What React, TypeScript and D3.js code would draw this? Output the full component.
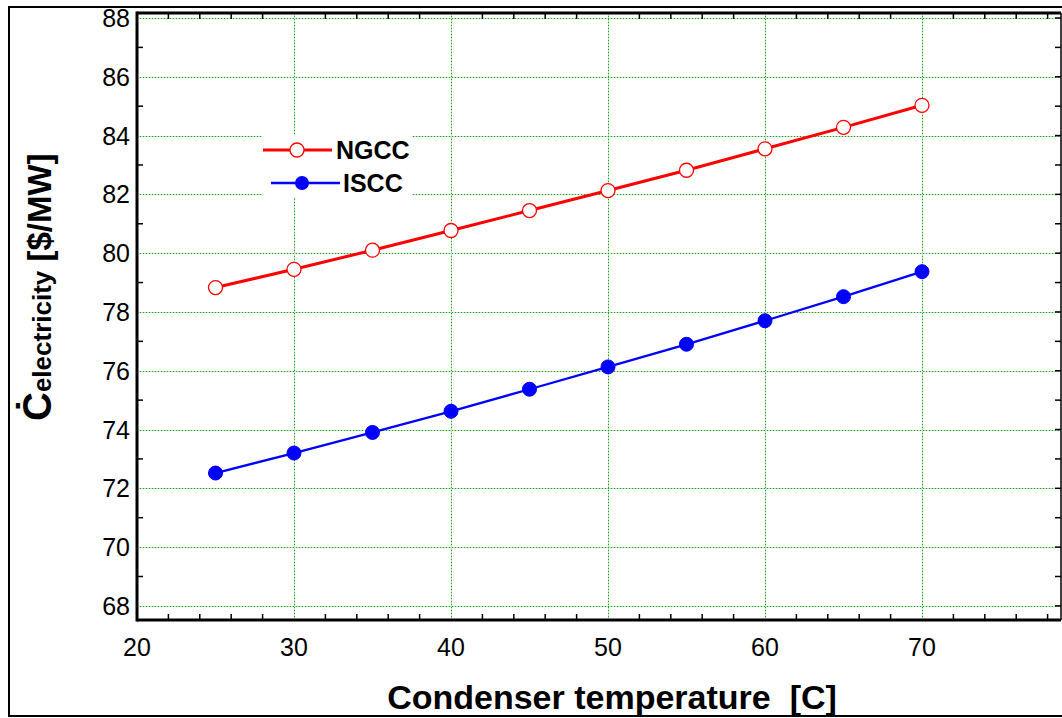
import React from 'react';
import * as d3 from 'd3';

const temps = [25, 30, 35, 40, 45, 50, 55, 60, 65, 70];
const ngcc = [78.83, 79.45, 80.1, 80.77, 81.45, 82.13, 82.82, 83.55, 84.28, 85.03];
const iscc = [72.52, 73.2, 73.9, 74.62, 75.37, 76.13, 76.9, 77.7, 78.52, 79.37];
const xTicks = [20, 30, 40, 50, 60, 70];
const yTicks = [68, 70, 72, 74, 76, 78, 80, 82, 84, 86, 88];

const W = 1062;
const H = 718;
const left = 137, right = 1061, top = 13, bottom = 620;
const font = 'Liberation Sans, Arial, sans-serif';

const App = () => {
  const x = d3.scaleLinear().domain([20, 20 + (right - left) / 15.7]).range([left, right]);
  const y = d3.scaleLinear().domain([67.52, 88.17]).range([bottom, top]);

  const line = d3
    .line<number>()
    .x((_, i) => x(temps[i]))
    .y(d => y(d));

  const minorX = d3.range(22, 79, 2).filter(v => v % 10 !== 0);
  const minorY = d3.range(68, 89, 1).filter(v => v % 2 !== 0);
  const gridLight = '#b4e2b4';
  const gridDark = '#22a022';

  const gx = xTicks.filter(v => v > 20).map(v => Math.round(x(v)) + 0.5);
  const gy = yTicks.map(v => Math.round(y(v)) + 0.5);

  return (
    <svg width={W} height={H} style={{ position: 'absolute', left: 0, top: 0, background: '#fff' }}>
      <rect x={9} y={7} width={W + 10} height={709} fill="none" stroke="#000" strokeWidth={2} />

      {/* grid: light green line with darker dots */}
      {gx.map(p => (
        <g key={'gx' + p}>
          <line x1={p} x2={p} y1={top} y2={bottom} stroke={gridLight} strokeWidth={1} />
          <line x1={p} x2={p} y1={top} y2={bottom} stroke={gridDark} strokeWidth={1} strokeDasharray="1,2" />
        </g>
      ))}
      {gy.map(p => (
        <g key={'gy' + p}>
          <line x1={left} x2={right} y1={p} y2={p} stroke={gridLight} strokeWidth={1} />
          <line x1={left} x2={right} y1={p} y2={p} stroke={gridDark} strokeWidth={1} strokeDasharray="1,2" />
        </g>
      ))}

      {/* minor ticks */}
      {minorX.map(v => (
        <g key={'mx' + v}>
          <line x1={x(v)} x2={x(v)} y1={bottom} y2={bottom - 6} stroke="#000" strokeWidth={1.5} />
          <line x1={x(v)} x2={x(v)} y1={top} y2={top + 6} stroke="#000" strokeWidth={1.5} />
        </g>
      ))}
      {minorY.map(v => (
        <g key={'my' + v}>
          <line x1={left} x2={left + 6} y1={y(v)} y2={y(v)} stroke="#000" strokeWidth={1.5} />
          <line x1={right} x2={right - 6} y1={y(v)} y2={y(v)} stroke="#000" strokeWidth={1.5} />
        </g>
      ))}
      {yTicks.map(v => (
        <line key={'ry' + v} x1={right} x2={right - 6} y1={y(v)} y2={y(v)} stroke="#000" strokeWidth={1.5} />
      ))}

      {/* frame */}
      <line x1={left} x2={right} y1={top} y2={top} stroke="#000" strokeWidth={3} />
      <line x1={left} x2={right} y1={bottom} y2={bottom} stroke="#000" strokeWidth={3} />
      <line x1={left} x2={left} y1={top - 1.5} y2={bottom + 1.5} stroke="#000" strokeWidth={3} />
      <line x1={right} x2={right} y1={top} y2={bottom} stroke="#000" strokeWidth={1.5} />

      {/* tick labels */}
      {yTicks.map(v => (
        <text key={'ly' + v} x={130} y={y(v) + 9} textAnchor="end" fontFamily={font} fontSize={25} fill="#000">{v}</text>
      ))}
      {xTicks.map(v => (
        <text key={'lx' + v} x={x(v)} y={656} textAnchor="middle" fontFamily={font} fontSize={25} fill="#000">{v}</text>
      ))}

      {/* series */}
      <path d={line(ngcc) || ''} fill="none" stroke="#ff0000" strokeWidth={3} />
      <path d={line(iscc) || ''} fill="none" stroke="#0000ff" strokeWidth={2.3} />
      {ngcc.map((v, i) => (
        <circle key={'n' + i} cx={x(temps[i])} cy={y(v)} r={7} fill="#fff" stroke="#ff0000" strokeWidth={1.3} />
      ))}
      {iscc.map((v, i) => (
        <circle key={'i' + i} cx={x(temps[i])} cy={y(v)} r={7} fill="#0000ff" stroke="#0000ff" strokeWidth={1} />
      ))}

      {/* legend */}
      <rect x={262} y={135} width={150} height={62} fill="#fff" />
      <line x1={263} x2={332} y1={150} y2={150} stroke="#ff0000" strokeWidth={3} />
      <circle cx={297} cy={150} r={7} fill="#fff" stroke="#ff0000" strokeWidth={1.3} />
      <text x={336} y={159} fontFamily={font} fontSize={25} fontWeight="bold" fill="#000">NGCC</text>
      <line x1={271} x2={340} y1={183} y2={183} stroke="#0000ff" strokeWidth={2.3} />
      <circle cx={302} cy={183} r={7} fill="#0000ff" />
      <text x={343} y={192} fontFamily={font} fontSize={25} fontWeight="bold" fill="#000">ISCC</text>

      {/* axis titles */}
      <text x={612} y={709} textAnchor="middle" fontFamily={font} fontSize={34} fontWeight="bold" fill="#000">
        Condenser temperature{'\u00a0\u00a0'}[C]
      </text>
      <text transform="translate(51,421) rotate(-90)" fontFamily={font} fontWeight="bold" fill="#000">
        <tspan fontSize={40}>{'\u010A'}</tspan>
        <tspan fontSize={26}>electricity</tspan>
        <tspan fontSize={33}>{'\u00a0[$/MW]'}</tspan>
      </text>
    </svg>
  );
};

export default App;
